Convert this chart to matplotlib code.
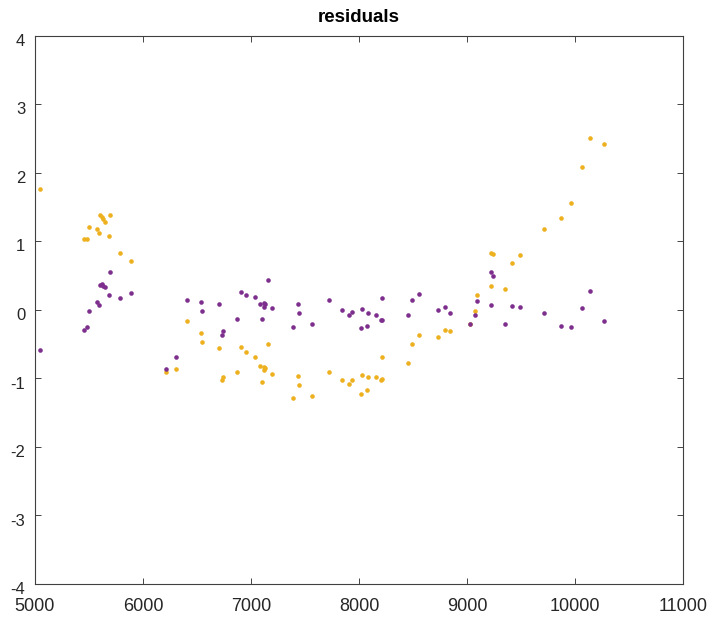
import matplotlib
matplotlib.use("Agg")
import matplotlib.pyplot as plt
import matplotlib.transforms as mtransforms

# data
x = [5043, 5454, 5478, 5503, 5577, 5593, 5602, 5620, 5633, 5648, 5682, 5694,
     5787, 5886, 6216, 6302, 6404, 6540, 6543, 6701, 6728, 6744, 6870, 6910,
     6954, 7037, 7083, 7099, 7117, 7123, 7130, 7157, 7191, 7389, 7432, 7448,
     7562, 7725, 7843, 7904, 7935, 8016, 8028, 8077, 8086, 8157, 8206, 8210,
     8216, 8457, 8488, 8556, 8731, 8799, 8843, 9031, 9071, 9093, 9219, 9219,
     9238, 9352, 9417, 9488, 9716, 9870, 9966, 10065, 10136, 10266]

res_orange = [1.77, 1.04, 1.03, 1.21, 1.18, 1.12, 1.38, 1.35, 1.32, 1.28, 1.08, 1.38,
              0.83, 0.72, -0.91, -0.86, -0.16, -0.34, -0.47, -0.55, -1.02, -0.98, -0.91, -0.54,
              -0.62, -0.69, -0.82, -1.05, -0.88, -0.83, -0.85, -0.50, -0.93, -1.28, -0.96, -1.09,
              -1.25, -0.90, -1.02, -1.08, -1.02, -1.23, -0.95, -1.17, -0.98, -0.98, -1.03, -1.01,
              -0.69, -0.77, -0.50, -0.37, -0.40, -0.29, -0.31, -0.20, -0.02, 0.21, 0.83, 0.35,
              0.81, 0.30, 0.68, 0.80, 1.18, 1.34, 1.56, 2.08, 2.51, 2.42]

res_purple = [-0.58, -0.29, -0.25, -0.02, 0.11, 0.07, 0.36, 0.38, 0.35, 0.34, 0.22, 0.55,
              0.18, 0.25, -0.86, -0.69, 0.15, 0.12, -0.01, 0.08, -0.36, -0.31, -0.14, 0.26,
              0.21, 0.19, 0.09, -0.14, 0.04, 0.10, 0.08, 0.44, 0.03, -0.25, 0.08, -0.04,
              -0.20, 0.14, 0.00, -0.07, -0.03, -0.27, 0.01, -0.23, -0.04, -0.08, -0.15, -0.15,
              0.17, -0.08, 0.15, 0.23, 0.00, 0.04, -0.04, -0.21, -0.07, 0.13, 0.55, 0.07,
              0.50, -0.21, 0.05, 0.04, -0.05, -0.24, -0.25, 0.02, 0.27, -0.16]

xticks = [5000, 6000, 7000, 8000, 9000, 10000, 11000]
yticks = [-4, -3, -2, -1, 0, 1, 2, 3, 4]

plt.rcParams["font.family"] = ["Liberation Sans", "DejaVu Sans"]
plt.rcParams["axes.unicode_minus"] = False

fig = plt.figure(figsize=(7.18, 6.22), dpi=100)
ax = fig.add_axes([0.0487, 0.0611, 0.9026, 0.8815])

ax.plot(x, res_orange, "o", color="#EDB120", markersize=3.3, markeredgewidth=0)
ax.plot(x, res_purple, "o", color="#7E2F8E", markersize=3.3, markeredgewidth=0)

ax.set_xlim(5000, 11000)
ax.set_ylim(-4, 4)
ax.set_xticks(xticks)
ax.set_yticks(yticks)
ax.tick_params(direction="in", top=True, right=True, length=4, width=0.6,
               colors="#262626")
ax.tick_params(axis="x", labelsize=13, pad=10)
ax.tick_params(axis="y", labelsize=12, pad=7)
for s in ax.spines.values():
    s.set_color("#404040")
    s.set_linewidth(0.8)

# y labels sit a little below their ticks in the reference
shift = mtransforms.ScaledTranslation(0, -3 / 72, fig.dpi_scale_trans)
for lab in ax.get_yticklabels():
    lab.set_transform(lab.get_transform() + shift)

ax.set_title("residuals", fontsize=13.5, fontweight="bold", color="black", pad=10)

fig.savefig("out.png", dpi=100)
